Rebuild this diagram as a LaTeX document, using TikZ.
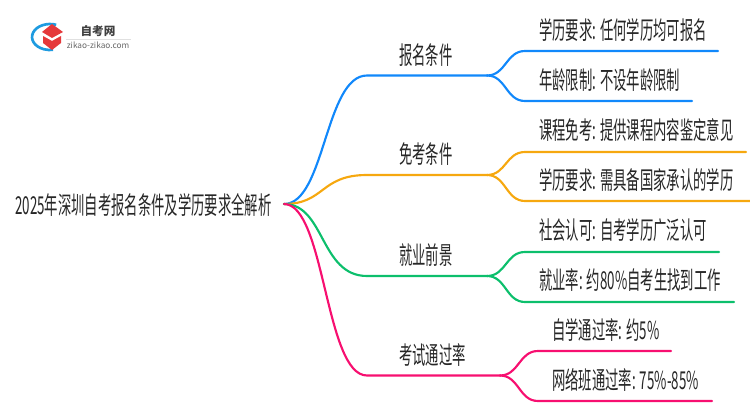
\documentclass[tikz,border=0pt]{standalone}
\usepackage{graphicx}
\usepackage{fontspec}
\setmainfont{Noto Sans CJK SC}
\definecolor{bblue}{HTML}{1188FB}
\definecolor{borange}{HTML}{F6A80F}
\definecolor{bgreen}{HTML}{0CBF6C}
\definecolor{bpink}{HTML}{F70F70}
\definecolor{logoblue}{HTML}{1E9BE0}
\definecolor{logored}{HTML}{E5393B}
\newcommand{\tallcn}[1]{\scalebox{1}[1.85]{#1}}
\begin{document}
\begin{tikzpicture}[x=0.75pt, y=-0.75pt,
    branch/.style={line width=1.6pt, line cap=round},
    lab/.style={anchor=west, inner sep=0pt, font=\fontsize{10}{12}\selectfont, text=black!85},
    ]

        \useasboundingbox (0,0) rectangle (750,410);

        % Define the coordinates of the branch points
        \coordinate (R) at (284,204);

        \coordinate (K1s) at (367,75.5);
        \coordinate (K1e) at (487,75.5);
        \coordinate (K2s) at (367,175);
        \coordinate (K2e) at (487,175);
        \coordinate (K3s) at (367,276);
        \coordinate (K3e) at (487,276);
        \coordinate (K4s) at (367,375.5);
        \coordinate (K4e) at (500,375.5);

        \coordinate (L1s) at (525,51);
        \coordinate (L1e) at (718,51);
        \coordinate (L2s) at (525,101);
        \coordinate (L2e) at (692,101);
        \coordinate (L3s) at (525,152);
        \coordinate (L3e) at (746,152);
        \coordinate (L4s) at (525,201);
        \coordinate (L4e) at (750,201);
        \coordinate (L5s) at (525,252);
        \coordinate (L5e) at (719,252);
        \coordinate (L6s) at (525,302);
        \coordinate (L6e) at (734,302);
        \coordinate (L7s) at (538,351);
        \coordinate (L7e) at (671,351);
        \coordinate (L8s) at (538,401);
        \coordinate (L8e) at (712,401);

        % Draw the main branches
        \draw[branch, bblue] (R) .. controls (325,204) and (325,75.5) .. (K1s) -- (K1e);
        \draw[branch, borange] (R) .. controls (325,204) and (320,175) .. (K2s) -- (K2e);
        \draw[branch, bgreen] (R) .. controls (325,204) and (320,276) .. (K3s) -- (K3e);
        \draw[branch, bpink] (R) .. controls (325,204) and (325,375.5) .. (K4s) -- (K4e);

        % Draw the leaf branches
        \draw[branch, bblue] (K1e) .. controls (506,75.5) and (506,51) .. (L1s) -- (L1e);
        \draw[branch, bblue] (K1e) .. controls (506,75.5) and (506,101) .. (L2s) -- (L2e);
        \draw[branch, borange] (K2e) .. controls (506,175) and (506,152) .. (L3s) -- (L3e);
        \draw[branch, borange] (K2e) .. controls (506,175) and (506,201) .. (L4s) -- (L4e);
        \draw[branch, bgreen] (K3e) .. controls (506,276) and (506,252) .. (L5s) -- (L5e);
        \draw[branch, bgreen] (K3e) .. controls (506,276) and (506,302) .. (L6s) -- (L6e);
        \draw[branch, bpink] (K4e) .. controls (519,375.5) and (519,351) .. (L7s) -- (L7e);
        \draw[branch, bpink] (K4e) .. controls (519,375.5) and (519,401) .. (L8s) -- (L8e);

        % Labels for the branches
        \node[lab] (root) at (15,205) {\tallcn{2025年深圳自考报名条件及学历要求全解析}};
        \node[lab] (k1) at (399,55) {\tallcn{报名条件}};
        \node[lab] (k2) at (399,154) {\tallcn{免考条件}};
        \node[lab] (k3) at (399,255) {\tallcn{就业前景}};
        \node[lab] (k4) at (399,355) {\tallcn{考试通过率}};

        % Labels for the leaves
        \node[lab] (l1) at (539,30) {\tallcn{学历要求: 任何学历均可报名}};
        \node[lab] (l2) at (539,80) {\tallcn{年龄限制: 不设年龄限制}};
        \node[lab] (l3) at (539,130) {\tallcn{课程免考: 提供课程内容鉴定意见}};
        \node[lab] (l4) at (539,180) {\tallcn{学历要求: 需具备国家承认的学历}};
        \node[lab] (l5) at (539,230) {\tallcn{社会认可: 自考学历广泛认可}};
        \node[lab] (l6) at (539,280) {\tallcn{就业率: 约80\%自考生找到工作}};
        \node[lab] (l7) at (552,330) {\tallcn{自学通过率: 约5\%}};
        \node[lab] (l8) at (552,380) {\tallcn{网络班通过率: 75\%-85\%}};

        % Logo
        \draw[line width=2pt, logoblue] (56.2,24.8) arc (-70:-280:18 and 13);
        \fill[logored] (42,32) -- (52,24) -- (63,32) -- (52,38) -- cycle;
        \fill[logored] (43,36) -- (52,41) -- (61,36) -- (61,43) -- (52,50) -- (43,43) -- cycle;
        \draw[black!12, line width=0.5pt] (66,39) -- (131,39);
        \node[inner sep=0pt, font=\fontsize{8.7}{10}\selectfont\bfseries, text=black!75] (logotitle) at (98,31) {自考网};
        \node[inner sep=0pt, font=\fontsize{6.2}{8}\selectfont, text=black!60] (logourl) at (98,45) {zikao-zikao.com};

    \end{tikzpicture}
\end{document}
